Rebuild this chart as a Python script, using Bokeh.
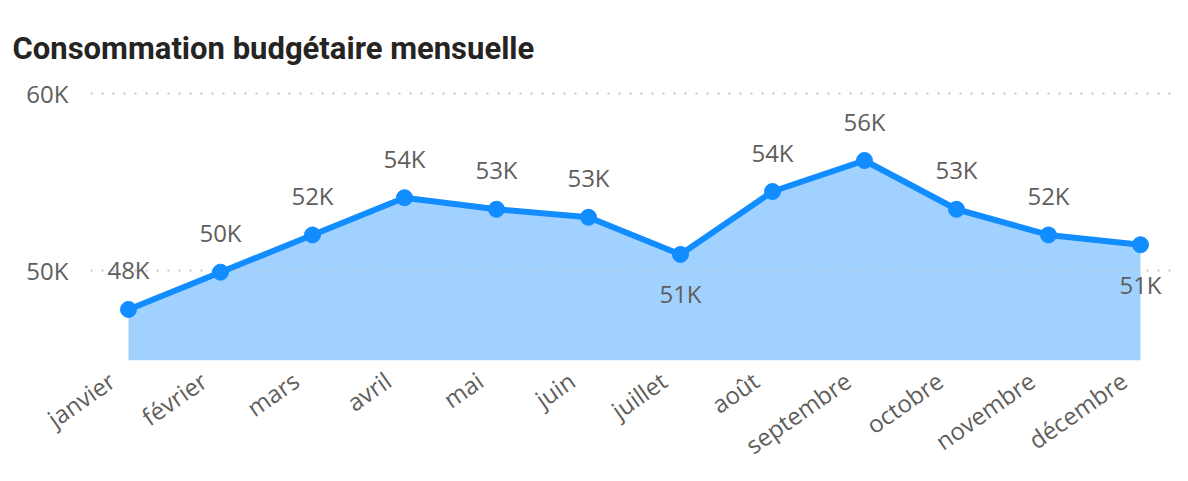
import math
from bokeh.plotting import figure
from bokeh.models import ColumnDataSource, Range1d, FixedTicker, LabelSet, CustomJSTickFormatter
from bokeh.core.properties import value
from bokeh.embed import file_html
from bokeh.resources import INLINE

# ---- data ----
title_text = "Consommation budgétaire mensuelle"
months = ["janvier", "février", "mars", "avril", "mai", "juin",
          "juillet", "août", "septembre", "octobre", "novembre", "décembre"]
values = [47800, 49900, 52000, 54100, 53450, 53000,
          50900, 54450, 56200, 53450, 52000, 51450]
y_ticks = [50000, 60000]
y_tick_labels = ["50K", "60K"]
labels_below = ["juillet", "décembre"]

# ---- styles ----
BLUE = "#118DFF"
GRAY = "#605E5C"
LABEL_FONT = "Open Sans"
X_LABEL_SHIFT = 0.18  # category label shift (in category units) to mimic rotated anchor

x = list(range(len(months)))
point_labels = [f"{round(v / 1000)}K" for v in values]

y_start, y_end = 44920, 60430
p = figure(width=1188, height=481, output_backend="svg", toolbar_location=None,
           x_range=Range1d(-0.413, 11.348), y_range=Range1d(y_start, y_end),
           min_border_left=90, min_border_right=16, min_border_top=85,
           min_border_bottom=121)
p.outline_line_color = None
p.background_fill_color = "white"
p.border_fill_color = "white"

# title
p.title.text = title_text
p.title.text_font = "Roboto"
p.title.text_font_style = "bold"
p.title.text_font_size = "31px"
p.title.text_color = "#252423"
p.title.align = "left"
p.title.offset = -78
p.title.standoff = 37

src = ColumnDataSource(dict(x=x, y=values, label=point_labels, month=months))

area = p.varea(x="x", y1=y_start, y2="y", source=src, fill_color=BLUE, fill_alpha=0.4)
area.level = "image"
p.line(x="x", y="y", source=src, line_color=BLUE, line_width=6)
p.scatter(x="x", y="y", source=src, size=16, fill_color=BLUE, line_color=BLUE)

above_idx = [i for i, m in enumerate(months) if m not in labels_below]
below_idx = [i for i, m in enumerate(months) if m in labels_below]
src_above = ColumnDataSource(dict(x=[x[i] for i in above_idx], y=[values[i] for i in above_idx],
                                  label=[point_labels[i] for i in above_idx]))
src_below = ColumnDataSource(dict(x=[x[i] for i in below_idx], y=[values[i] for i in below_idx],
                                  label=[point_labels[i] for i in below_idx]))
for s, off in ((src_above, 30), (src_below, -49)):
    ls = LabelSet(x="x", y="y", text="label", source=s, y_offset=off,
                  text_align="center", text_baseline="alphabetic",
                  text_font=value(LABEL_FONT), text_font_size=value("24px"),
                  text_color=GRAY)
    p.add_layout(ls)

# axes
p.xaxis.ticker = FixedTicker(ticks=[i - X_LABEL_SHIFT for i in x])
p.xaxis.formatter = CustomJSTickFormatter(
    args=dict(months=months, shift=X_LABEL_SHIFT),
    code="return months[Math.round(tick + shift)];")
p.xaxis.major_label_orientation = math.radians(35)
p.xaxis.axis_line_color = None
p.xaxis.major_tick_line_color = None
p.xaxis.minor_tick_line_color = None
p.xaxis.major_label_standoff = 11
p.xaxis.major_label_text_font = LABEL_FONT
p.xaxis.major_label_text_font_size = "24px"
p.xaxis.major_label_text_color = GRAY

p.yaxis.ticker = FixedTicker(ticks=y_ticks)
p.yaxis.major_label_overrides = {t: l for t, l in zip(y_ticks, y_tick_labels)}
p.yaxis.axis_line_color = None
p.yaxis.major_tick_line_color = None
p.yaxis.minor_tick_line_color = None
p.yaxis.major_label_standoff = 16
p.yaxis.major_label_text_font = LABEL_FONT
p.yaxis.major_label_text_font_size = "24px"
p.yaxis.major_label_text_color = GRAY

p.xgrid.grid_line_color = None
p.ygrid.ticker = FixedTicker(ticks=y_ticks)
p.ygrid.grid_line_color = "#C8C6C4"
p.ygrid.grid_line_width = 2
p.ygrid.grid_line_dash = "2 9"

open("out.html", "w").write(file_html(p, INLINE))
